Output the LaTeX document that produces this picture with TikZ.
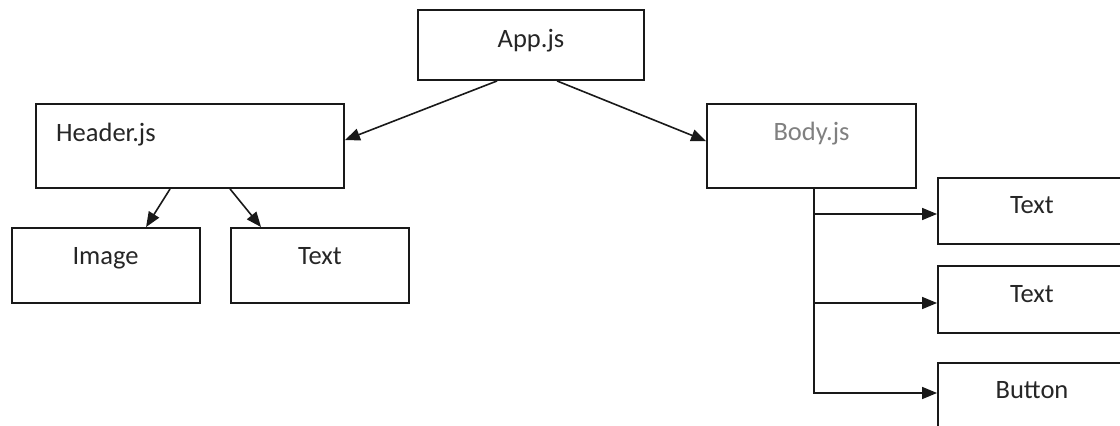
\documentclass[tikz,border=0pt]{standalone}
\usepackage{fontspec}
\setmainfont{Carlito}
\usetikzlibrary{arrows.meta,calc}

\tikzset{
  box/.style={draw=black!90, line width=1.9pt, inner sep=0pt, fill=white},
  lbl/.style={font=\fontsize{26.5}{31}\selectfont, text=black!85, inner sep=0pt},
  link/.style={draw=black!90, line width=1.6pt, -{Triangle[length=15pt,width=12pt]}},
}

\begin{document}
\begin{tikzpicture}[x=1pt, y=-1pt]
  \clip (0,0) rectangle (1120,426);
  \fill[white] (0,0) rectangle (1120,426);

  % component boxes
  \node[box, minimum width=226pt, minimum height=70pt] (app)    at (531,45)    {};
  \node[box, minimum width=308pt, minimum height=84pt] (header) at (190,146)   {};
  \node[box, minimum width=209pt, minimum height=84pt] (body)   at (811.5,146) {};
  \node[box, minimum width=188pt, minimum height=75pt] (image)  at (106,265.5) {};
  \node[box, minimum width=178pt, minimum height=75pt] (htext)  at (320,265.5) {};
  \node[box, minimum width=188pt, minimum height=66pt] (t1)     at (1032,211)  {};
  \node[box, minimum width=188pt, minimum height=67pt] (t2)     at (1032,299.5){};
  \node[box, minimum width=188pt, minimum height=67pt] (btn)    at (1032,396.5){};

  % box captions
  \node[lbl, anchor=base]      (appL)    at (531,47)    {App.js};
  \node[lbl, anchor=base west] (headerL) at (56,141)    {Header.js};
  \node[lbl, anchor=base, text=black!50] (bodyL) at (811.5,140) {Body.js};
  \node[lbl, anchor=base]      (imageL)  at (105.5,264) {Image};
  \node[lbl, anchor=base]      (htextL)  at (320,264)   {Text};
  \node[lbl, anchor=base]      (t1L)     at (1032,213)  {Text};
  \node[lbl, anchor=base]      (t2L)     at (1032,302)  {Text};
  \node[lbl, anchor=base]      (btnL)    at (1032,398)  {Button};

  % App.js -> Header.js / Body.js
  \draw[link] ($(app.south west)+(80,0)$)  -- ($(header.north east)+(0,37)$);
  \draw[link] ($(app.south west)+(140,0)$) -- ($(body.north west)+(0,38)$);

  % Header.js -> Image / Text
  \draw[link] ($(header.south west)+(135,0)$) -- ($(image.north west)+(135,0)$);
  \draw[link] ($(header.south west)+(195,0)$) -- ($(htext.north west)+(31,0)$);

  % Body.js trunk with three branches
  \coordinate (trunk) at ($(body.south)+(2.5,0)$);
  \coordinate (e1) at ($(t1.west)+(0,3)$);
  \coordinate (e2) at ($(t2.west)+(0,3.5)$);
  \coordinate (e3) at ($(btn.west)+(0,-3.5)$);
  \draw[link] (trunk) |- (e3);
  \draw[link] (trunk |- e1) -- (e1);
  \draw[link] (trunk |- e2) -- (e2);
\end{tikzpicture}
\end{document}
